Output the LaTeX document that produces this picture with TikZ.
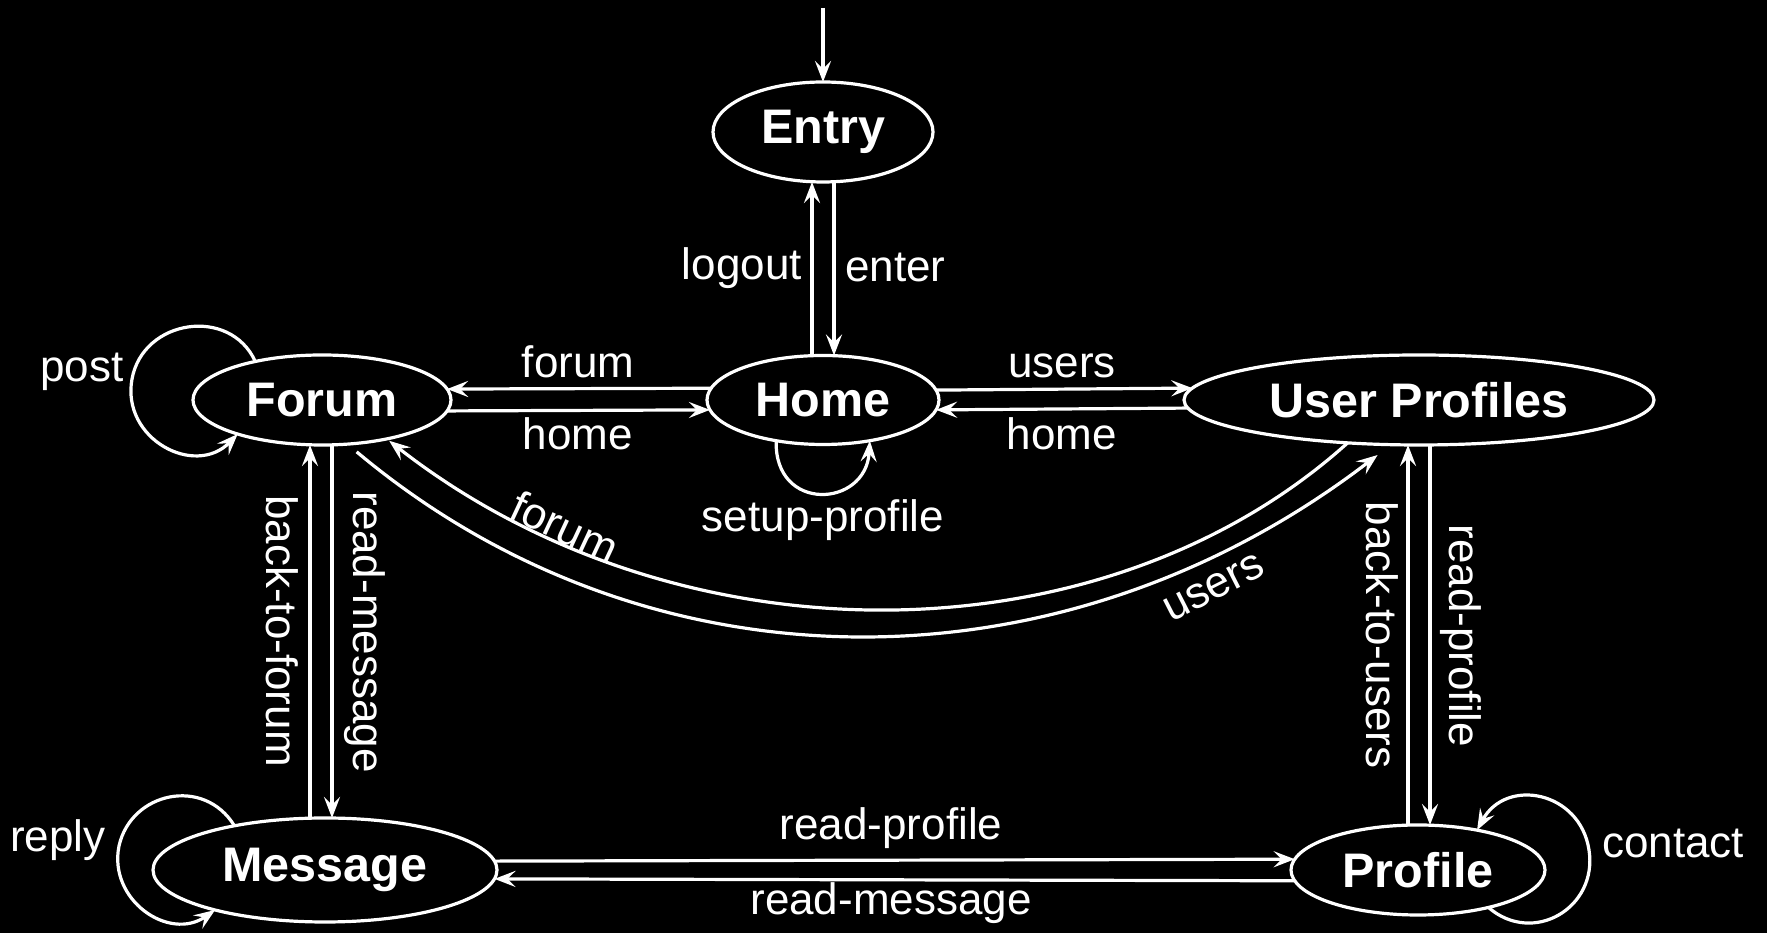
\documentclass[tikz,border=0pt]{standalone}
\usepackage{fontspec}
\setmainfont{Liberation Sans}
\usetikzlibrary{shapes.geometric,arrows.meta}
\begin{document}
\begin{tikzpicture}[x=1pt,y=1pt,
  state/.style={ellipse,draw=white,line width=3.2pt,fill=black,inner sep=0pt,outer sep=0pt,text=white,font=\fontsize{48.5}{55}\selectfont\bfseries},
  lbl/.style={text=white,inner sep=0pt,font=\fontsize{44}{50}\selectfont},
  edge/.style={draw=white,line width=3.2pt,-{Stealth[length=21pt,width=16pt,inset=8pt]}}]
\fill[black] (0,0) rectangle (1767,933);
\useasboundingbox (0,0) rectangle (1767,933);
% states
\node[state,minimum width=220pt,minimum height=100pt] (entry) at (823,801) {Entry};
\node[state,minimum width=232pt,minimum height=89pt] (home) at (823,533) {Home};
\node[state,minimum width=258pt,minimum height=90pt] (forum) at (322,533) {Forum};
\node[state,minimum width=470pt,minimum height=90pt] (users) at (1419,533) {User Profiles};
\node[state,minimum width=344pt,minimum height=104pt] (message) at (325,63) {Message};
\node[state,minimum width=254pt,minimum height=90pt] (profile) at (1418,63) {Profile};
% initial
\coordinate (init) at (823,925);
\draw[edge] (init) -- (entry.north);
% entry / home
\draw[edge] ([xshift=-11pt]home.north) -- ([xshift=-11pt]entry.south);
\draw[edge] ([xshift=11pt]entry.south) -- ([xshift=11pt]home.north);
\node[lbl,anchor=base east] (llogout) at (802,653) {logout};
\node[lbl,anchor=base west] (lenter) at (845,651) {enter};
% forum / home
\draw[edge] (home.174.4) -- (forum.5);
\draw[edge] (forum.-5) -- (home.185.6);
\node[lbl,anchor=base] (lforum1) at (578,555) {forum};
\node[lbl,anchor=base] (lhome1) at (578,483) {home};
% home / users
\draw[edge] (home.5.6) -- (users.177.24);
\draw[edge] (users.182.76) -- (home.-5.6);
\node[lbl,anchor=base] (lusers1) at (1062,555) {users};
\node[lbl,anchor=base] (lhome2) at (1062,483) {home};
% forum / message
\draw[edge] ([xshift=-12pt]forum.south |- message.north) -- ([xshift=-12pt]forum.south);
\draw[edge] ([xshift=10pt]forum.south) -- ([xshift=10pt]forum.south |- message.north);
\node[lbl,rotate=-90] (lbtf) at (282,302) {back-to-forum};
\node[lbl,rotate=-90] (lrm1) at (365,301) {read-message};
% users / profile
\draw[edge] ([xshift=-11pt]users.south |- profile.north) -- ([xshift=-11pt]users.south);
\draw[edge] ([xshift=11pt]users.south) -- ([xshift=11pt]users.south |- profile.north);
\node[lbl,rotate=-90] (lbtu) at (1382,298) {back-to-users};
\node[lbl,rotate=-90] (lrp1) at (1461,297) {read-profile};
% message / profile
\draw[edge] (message.3.39) -- (profile.175.38);
\draw[edge] (profile.185.1) -- (message.-3.74);
\node[lbl,anchor=base] (lrp2) at (891,93) {read-profile};
\node[lbl,anchor=base] (lrm2) at (891,18) {read-message};
% long curves
\draw[edge,shorten >=3pt] (users.211.6) .. controls (1101,268) and (676,268) .. (forum.329);
\draw[edge,shorten <=12pt,shorten >=17pt] (forum.300.6) .. controls (649,236) and (1062,236) .. (users.238.6);
\node[lbl,rotate=-25] (lforum2) at (565,406) {forum};
\node[lbl,rotate=27] (lusers2) at (1214,345) {users};
% self loops
\draw[edge] (forum.150.1) .. controls (230,627) and (143,614) .. (132,554) .. controls (121,494) and (195,455) .. (forum.202.9);
\node[lbl,anchor=base] (lpost) at (82,551) {post};
\draw[edge] (message.154) .. controls (204,157) and (131,141) .. (119,87) .. controls (108,33) and (169,-9) .. (message.200.2);
\node[lbl,anchor=base] (lreply) at (58,81) {reply};
\draw[edge] (profile.332.5) .. controls (1533,-13) and (1598,25) .. (1589,83) .. controls (1580,142) and (1506,156) .. (profile.34);
\node[lbl,anchor=base] (lcontact) at (1673,75) {contact};
\draw[edge] (home.221.2) .. controls (774,420) and (866,425) .. (home.319.5);
\node[lbl,anchor=base] (lsetup) at (823,401) {setup-profile};
\end{tikzpicture}
\end{document}
